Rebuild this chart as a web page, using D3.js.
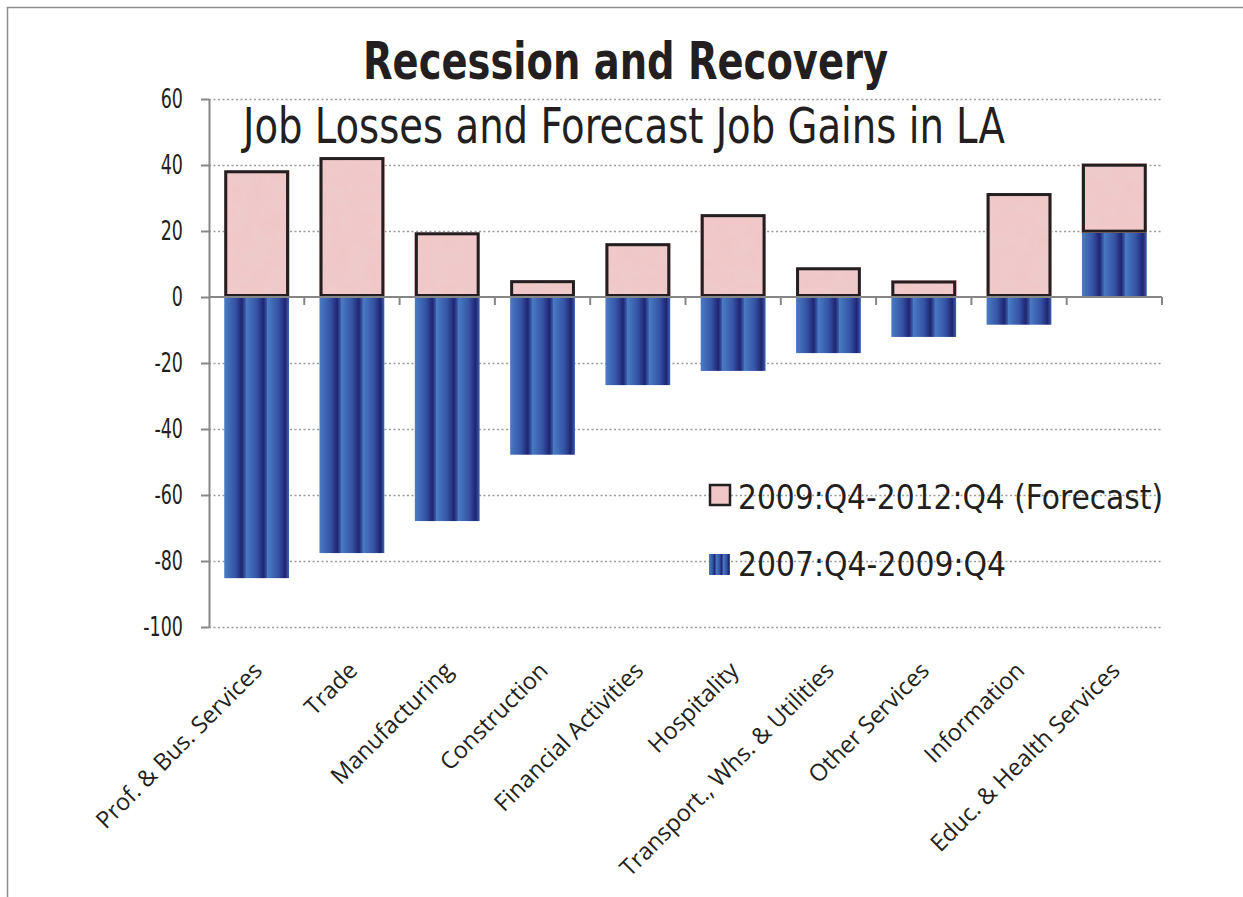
<!DOCTYPE html>
<html>
<head>
<meta charset="utf-8">
<script src="https://cdn.jsdelivr.net/npm/d3@7"></script>
<style>
  body { margin: 0; background: #fff; }
  svg { display: block; }
  .narrow { font-family: "Liberation Sans Narrow", "DejaVu Sans Condensed", "Roboto Condensed", sans-serif; }
</style>
</head>
<body>
<svg id="grafico"></svg>
<script>
// dados (milhares de empregos)
const categorias = ["Prof. & Bus. Services", "Trade", "Manufacturing", "Construction",
  "Financial Activities", "Hospitality", "Transport., Whs. & Utilities",
  "Other Services", "Information", "Educ. & Health Services"];
const recessao = [-85.2, -77.6, -67.9, -47.8, -26.7, -22.4, -17.0, -12.1, -8.4, 19.5];
const previsao = [38.4, 42.4, 19.6, 5.1, 16.3, 25.1, 9.0, 5.0, 31.5, 20.9];
const ticksY = [-100, -80, -60, -40, -20, 0, 20, 40, 60];
const series = ["2007:Q4-2009:Q4", "2009:Q4-2012:Q4 (Forecast)"];

const largura = 1243, altura = 897;
const svg = d3.select('#grafico').attr('width', largura).attr('height', altura);

// moldura externa
svg.append('rect')
  .attr('x', 7.5).attr('y', 7.5)
  .attr('width', largura + 20).attr('height', altura + 20)
  .attr('fill', 'none').attr('stroke', '#8c8c8c').attr('stroke-width', 1.5);

const defs = svg.append('defs');

// listras azuis verticais (3 repetições por barra)
const grad = defs.append('linearGradient')
  .attr('id', 'azul')
  .attr('x1', '0').attr('x2', '0.3333').attr('y1', '0').attr('y2', '0')
  .attr('spreadMethod', 'repeat');
[[0, '#4a7cc4'], [0.5, '#3554a5'], [0.82, '#1f2572'], [1, '#3e64b1']]
  .forEach(([o, c]) => grad.append('stop').attr('offset', o).attr('stop-color', c));

// textura rosa
const filtro = defs.append('filter').attr('id', 'textura')
  .attr('x', 0).attr('y', 0).attr('width', 1).attr('height', 1);
filtro.append('feTurbulence').attr('type', 'fractalNoise')
  .attr('baseFrequency', 0.06).attr('numOctaves', 2).attr('seed', 4).attr('result', 'ruido');
filtro.append('feColorMatrix').attr('in', 'ruido').attr('type', 'matrix')
  .attr('values', '0 0 0 0 0.86  0 0 0 0 0.66  0 0 0 0 0.68  0 0 0 0.35 0')
  .attr('result', 'manchas');
filtro.append('feFlood').attr('flood-color', '#f0c6c6').attr('result', 'base');
filtro.append('feComposite').attr('in', 'manchas').attr('in2', 'base').attr('operator', 'over');

const x = d3.scaleBand().domain(categorias).range([209, 1162]).paddingInner(0.32).paddingOuter(0.16);
const xLimites = d3.scaleBand().domain(categorias).range([209, 1162]);
const y = d3.scaleLinear().domain([-100, 60]).range([627, 99]);

// linhas de grade pontilhadas
svg.append('g')
  .attr('transform', 'translate(209,0)')
  .call(d3.axisLeft(y).tickValues(ticksY.filter(d => d !== 0)).tickSize(-(1162 - 209)).tickFormat(''))
  .call(g => g.select('.domain').remove())
  .call(g => g.selectAll('line').attr('stroke', '#9a9a9a').attr('stroke-width', 1.3).attr('stroke-dasharray', '2,2.5'));

// empilhamento divergente
const tabela = categorias.map((c, i) => ({ categoria: c, rec: recessao[i], prev: previsao[i] }));
const pilha = d3.stack().keys(['rec', 'prev']).offset(d3.stackOffsetDiverging)(tabela);

svg.append('g').selectAll('rect')
  .data(pilha[0])
  .join('rect')
  .attr('x', d => x(d.data.categoria))
  .attr('width', x.bandwidth())
  .attr('y', d => y(Math.max(d[0], d[1])))
  .attr('height', d => Math.abs(y(d[0]) - y(d[1])))
  .attr('fill', 'url(#azul)');

const rosa = svg.append('g');
rosa.selectAll('.fundo')
  .data(pilha[1])
  .join('rect')
  .attr('class', 'fundo')
  .attr('x', d => x(d.data.categoria))
  .attr('width', x.bandwidth())
  .attr('y', d => y(Math.max(d[0], d[1])))
  .attr('height', d => Math.abs(y(d[0]) - y(d[1])))
  .attr('fill', '#f0c6c6')
  .attr('filter', 'url(#textura)');
rosa.selectAll('.contorno')
  .data(pilha[1])
  .join('rect')
  .attr('class', 'contorno')
  .attr('x', d => x(d.data.categoria) + 1.5)
  .attr('width', x.bandwidth() - 3)
  .attr('y', d => y(Math.max(d[0], d[1])) + 1.5)
  .attr('height', d => Math.abs(y(d[0]) - y(d[1])) - 3)
  .attr('fill', 'none')
  .attr('stroke', '#231f20').attr('stroke-width', 3);

// eixo Y
svg.append('g')
  .attr('transform', 'translate(209,0)')
  .call(d3.axisLeft(y).tickValues(ticksY).tickSize(8).tickPadding(18).tickSizeOuter(0).tickFormat(d => String(d)))
  .call(g => g.select('.domain').attr('stroke', '#868686').attr('stroke-width', 2))
  .call(g => g.selectAll('line').attr('stroke', '#868686').attr('stroke-width', 2))
  .call(g => g.selectAll('text').attr('class', 'narrow').attr('font-size', 27).attr('fill', '#231f20')
    .each(function () {
      // dígitos mais estreitos, como no original
      const w = this.getComputedTextLength();
      d3.select(this).attr('textLength', w * 0.72).attr('lengthAdjust', 'spacingAndGlyphs');
    }));

// eixo X na linha do zero
const eixoX = svg.append('g');
eixoX.append('line')
  .attr('x1', 209).attr('x2', 1162).attr('y1', y(0)).attr('y2', y(0))
  .attr('stroke', '#868686').attr('stroke-width', 2);
eixoX.selectAll('.marca')
  .data(categorias)
  .join('line')
  .attr('x1', d => xLimites(d) + xLimites.bandwidth())
  .attr('x2', d => xLimites(d) + xLimites.bandwidth())
  .attr('y1', y(0)).attr('y2', y(0) + 8)
  .attr('stroke', '#868686').attr('stroke-width', 2);

// rótulos inclinados
svg.append('g').selectAll('text')
  .data(categorias)
  .join('text')
  .attr('transform', d => `translate(${xLimites(d) + xLimites.bandwidth() / 2 + 7},672) rotate(-45)`)
  .attr('text-anchor', 'end')
  .attr('font-family', '"Open Sans", "Noto Sans", sans-serif')
  .attr('font-size', 23.5)
  .attr('fill', '#231f20')
  .text(d => d);

// títulos
svg.append('text').attr('class', 'narrow')
  .attr('x', 363).attr('y', 79)
  .attr('font-size', 52).attr('font-weight', 'bold').attr('fill', '#231f20')
  .attr('textLength', 525).attr('lengthAdjust', 'spacingAndGlyphs')
  .text('Recession and Recovery');
svg.append('text').attr('class', 'narrow')
  .attr('x', 243).attr('y', 143)
  .attr('font-size', 50).attr('fill', '#231f20')
  .attr('textLength', 762).attr('lengthAdjust', 'spacingAndGlyphs')
  .text('Job Losses and Forecast Job Gains in LA');

// legenda
const legenda = svg.append('g');
legenda.append('rect')
  .attr('x', 710).attr('y', 485).attr('width', 20).attr('height', 20)
  .attr('fill', '#f0c6c6').attr('stroke', '#231f20').attr('stroke-width', 2.5);
legenda.append('rect')
  .attr('x', 709).attr('y', 554).attr('width', 21).attr('height', 21)
  .attr('fill', 'url(#azul)');
legenda.append('text').attr('class', 'narrow')
  .attr('x', 738).attr('y', 509).attr('font-size', 33).attr('fill', '#231f20')
  .attr('textLength', 425).attr('lengthAdjust', 'spacingAndGlyphs')
  .text(series[1]);
legenda.append('text').attr('class', 'narrow')
  .attr('x', 738).attr('y', 576).attr('font-size', 33).attr('fill', '#231f20')
  .attr('textLength', 268).attr('lengthAdjust', 'spacingAndGlyphs')
  .text(series[0]);
</script>
</body>
</html>
